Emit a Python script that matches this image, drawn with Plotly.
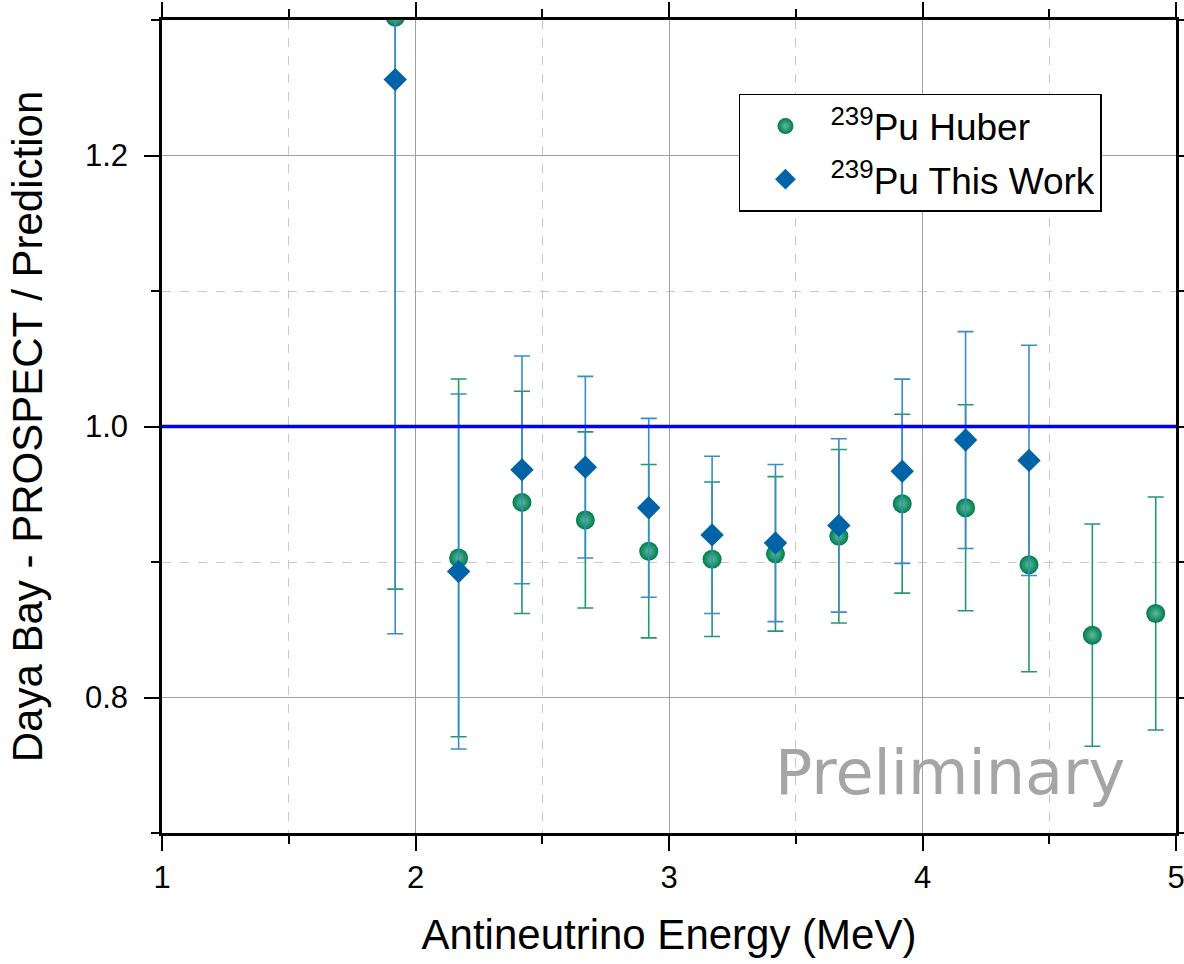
import plotly.graph_objects as go

# ---- data ----
energy = [1.92, 2.17, 2.42, 2.67, 2.92, 3.17, 3.42, 3.67, 3.92, 4.17, 4.42, 4.67, 4.92]
huber_ratio = [1.302, 0.903, 0.944, 0.931, 0.908, 0.902, 0.906, 0.919, 0.943, 0.940, 0.898, 0.846, 0.862]
huber_err = [0.422, 0.132, 0.082, 0.065, 0.064, 0.057, 0.057, 0.064, 0.066, 0.076, 0.079, 0.082, 0.086]

energy_tw = [1.92, 2.17, 2.42, 2.67, 2.92, 3.17, 3.42, 3.67, 3.92, 4.17, 4.42]
tw_ratio = [1.256, 0.893, 0.968, 0.970, 0.940, 0.920, 0.914, 0.927, 0.967, 0.990, 0.975]
tw_err = [0.409, 0.131, 0.084, 0.067, 0.066, 0.058, 0.058, 0.064, 0.068, 0.080, 0.085]

reference_level = 1.0
x_range = [1, 5]
y_range = [0.7, 1.3]

FONT = "Liberation Sans, Arial, sans-serif"

fig = go.Figure()

fig.add_trace(go.Scatter(
    x=energy, y=huber_ratio, mode="markers",
    name="<sup>239</sup>Pu Huber", legendgroup="a",
    marker=dict(symbol="circle", size=19, color="#007A50",
                gradient=dict(type="radial", color="#5DBE94"),
                line=dict(width=0)),
    error_y=dict(type="data", array=huber_err, visible=True,
                 color="#23996B", thickness=1.6, width=8),
    cliponaxis=True,
))

fig.add_trace(go.Scatter(
    x=energy_tw, y=tw_ratio, mode="markers",
    name="<sup>239</sup>Pu This Work", legendgroup="b",
    marker=dict(symbol="diamond", size=18, color="#0063A8", line=dict(width=0)),
    error_y=dict(type="data", array=tw_err, visible=True,
                 color="#3A8CC8", thickness=1.6, width=8),
    cliponaxis=True,
))

fig.add_hline(y=reference_level, line=dict(color="#0000FF", width=3.5), layer="above")

fig.add_annotation(
    x=4.11, y=0.745, xref="x", yref="y", text="Preliminary", showarrow=False,
    font=dict(family="DejaVu Sans", size=62, color="#A5A5A5"),
    xanchor="center", yanchor="middle",
)

axis_common = dict(
    showline=True, linecolor="black", linewidth=2.5, mirror="allticks",
    ticks="outside", ticklen=15, tickwidth=2, tickcolor="black",
    showgrid=True, gridcolor="#A0A0A0", gridwidth=1,
    zeroline=False,
    tickfont=dict(family=FONT, size=31, color="black"),
    automargin=False,
    ticklabeloverflow="allow",
)

fig.update_xaxes(
    range=x_range, tick0=1, dtick=1,
    title=dict(text="Antineutrino Energy (MeV)", font=dict(family=FONT, size=42, color="black"), standoff=26),
    minor=dict(dtick=0.5, ticklen=8, tickwidth=2, tickcolor="black", ticks="outside",
               showgrid=True, gridcolor="#C8C8C8", gridwidth=1, griddash="dash"),
    ticklabelstandoff=0,
    **axis_common,
)
fig.update_yaxes(
    range=y_range, tick0=0.8, dtick=0.2, tickformat=".1f",
    title=dict(text="Daya Bay - PROSPECT / Prediction", font=dict(family=FONT, size=42, color="black"), standoff=30),
    minor=dict(dtick=0.1, ticklen=8, tickwidth=2, tickcolor="black", ticks="outside",
               showgrid=True, gridcolor="#C8C8C8", gridwidth=1, griddash="dash"),
    ticklabelstandoff=10,
    **axis_common,
)

fig.update_layout(
    width=1184, height=964,
    margin=dict(l=162, r=8, t=20, b=131),
    paper_bgcolor="white", plot_bgcolor="white",
    font=dict(family=FONT, color="black"),
    legend=dict(
        x=0.569, y=0.909, xanchor="left", yanchor="top",
        bgcolor="white", bordercolor="black", borderwidth=1.5,
        font=dict(family=FONT, size=37, color="black"),
        tracegroupgap=2, itemsizing="trace", itemwidth=80,
    ),
    showlegend=True,
)

fig.write_html("out.html")
